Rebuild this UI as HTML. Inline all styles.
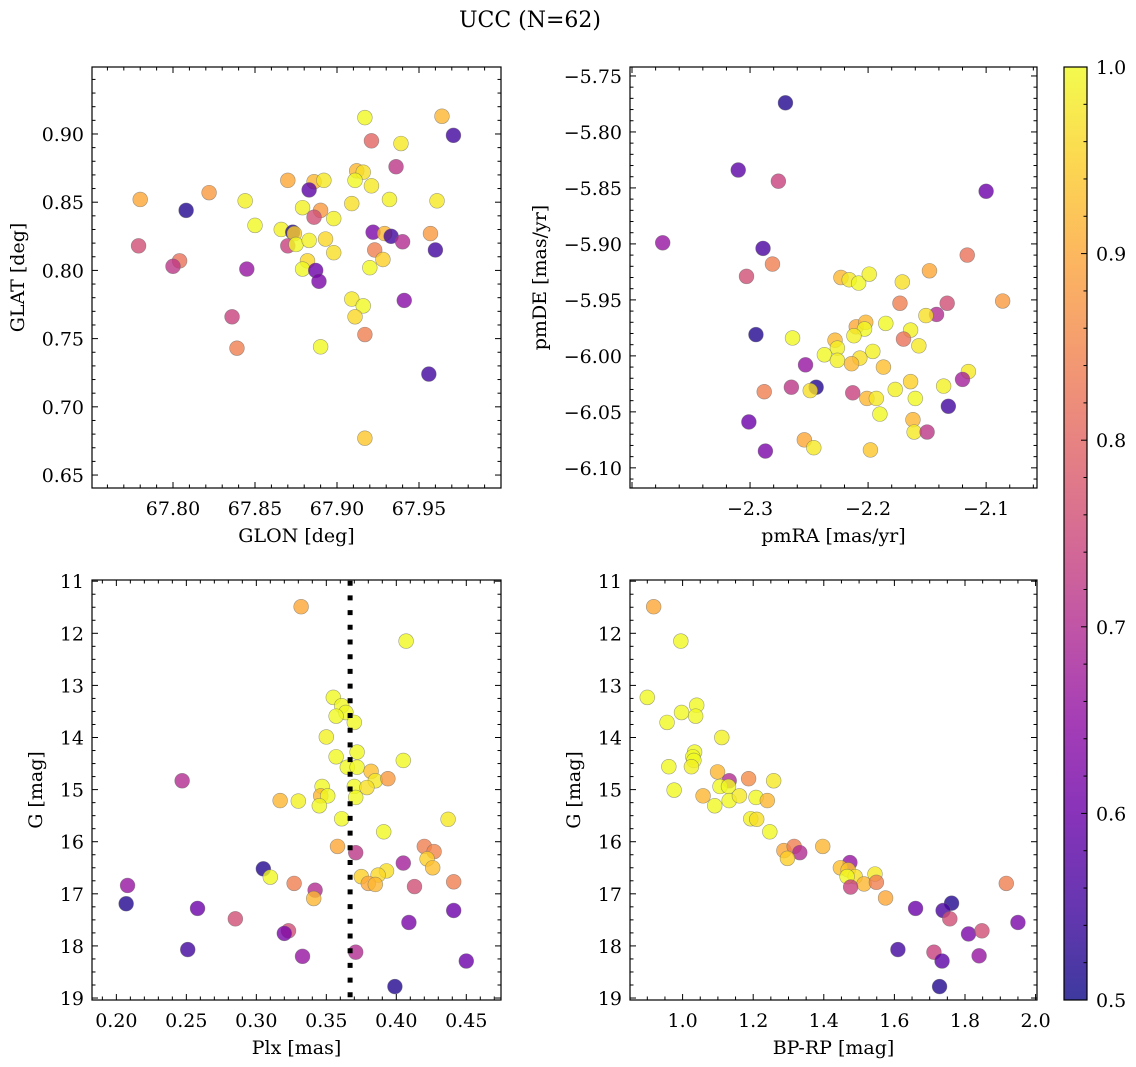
<!DOCTYPE html>
<html><head><meta charset="utf-8">
<style>
html,body{margin:0;padding:0;background:#fff;}
svg{display:block;font-family:"DejaVu Serif","Liberation Serif",serif;}
</style></head>
<body>
<svg id="fig" width="1136" height="1067" viewBox="0 0 1136 1067">
<text x="530" y="27" text-anchor="middle" font-size="22">UCC (N=62)</text>
</svg>
<script>
// ---- Panel 1: GLON vs GLAT ----
const glon1 = [67.917,67.964,67.971,67.921,67.939,67.936,67.912,67.916,67.911,67.921,67.870,67.886,67.892,67.883,67.932,67.961,67.780,67.822,67.808,67.844,67.909,67.879,67.890,67.886,67.898,67.850,67.866,67.873,67.874,67.870,67.875,67.883,67.893,67.898,67.922,67.929,67.933,67.940,67.957,67.960,67.923,67.928,67.920,67.779,67.804,67.800,67.845,67.882,67.879,67.887,67.889,67.909,67.916,67.941,67.911,67.836,67.917,67.839,67.890,67.956,67.917];
const glat1 = [0.912,0.913,0.899,0.895,0.893,0.876,0.873,0.872,0.866,0.862,0.866,0.865,0.866,0.859,0.852,0.851,0.852,0.857,0.844,0.851,0.849,0.846,0.844,0.839,0.838,0.833,0.830,0.828,0.827,0.818,0.819,0.822,0.823,0.813,0.828,0.827,0.825,0.821,0.827,0.815,0.815,0.808,0.802,0.818,0.807,0.803,0.801,0.807,0.801,0.800,0.792,0.779,0.774,0.778,0.766,0.766,0.753,0.743,0.744,0.724,0.677];
const prob1 = [1.0,0.92,0.55,0.8,0.98,0.72,0.92,0.97,1.0,0.98,0.9,0.92,0.98,0.58,0.99,0.98,0.9,0.88,0.52,0.99,0.97,0.99,0.88,0.76,0.99,1.0,0.99,0.52,0.95,0.74,1.0,0.99,0.96,0.97,0.62,0.92,0.55,0.7,0.88,0.55,0.84,0.95,1.0,0.76,0.82,0.72,0.66,0.96,1.0,0.6,0.62,0.98,1.0,0.64,0.96,0.74,0.84,0.84,1.0,0.55,0.94];
// ---- Panel 2: pmRA vs pmDE ----
const pmra2 = [-2.270,-2.310,-2.276,-2.100,-2.374,-2.289,-2.281,-2.303,-2.223,-2.216,-2.208,-2.199,-2.171,-2.148,-2.116,-2.086,-2.173,-2.133,-2.142,-2.151,-2.210,-2.202,-2.203,-2.185,-2.164,-2.212,-2.170,-2.157,-2.264,-2.295,-2.228,-2.226,-2.237,-2.226,-2.196,-2.207,-2.214,-2.187,-2.253,-2.115,-2.120,-2.164,-2.136,-2.177,-2.265,-2.244,-2.249,-2.288,-2.213,-2.201,-2.193,-2.160,-2.190,-2.132,-2.162,-2.161,-2.150,-2.301,-2.254,-2.246,-2.287,-2.198];
const pmde2 = [-5.774,-5.834,-5.844,-5.853,-5.899,-5.904,-5.918,-5.929,-5.930,-5.932,-5.935,-5.927,-5.934,-5.924,-5.910,-5.951,-5.953,-5.953,-5.963,-5.964,-5.974,-5.970,-5.976,-5.971,-5.977,-5.982,-5.985,-5.991,-5.984,-5.981,-5.986,-5.993,-5.999,-6.004,-5.996,-6.002,-6.007,-6.010,-6.008,-6.014,-6.021,-6.023,-6.027,-6.030,-6.028,-6.028,-6.031,-6.032,-6.033,-6.038,-6.038,-6.038,-6.052,-6.045,-6.057,-6.068,-6.068,-6.059,-6.075,-6.082,-6.085,-6.084];
const prob2 = [0.52,0.58,0.74,0.6,0.66,0.56,0.84,0.76,0.92,0.98,1.0,0.99,0.97,0.9,0.82,0.88,0.84,0.76,0.7,0.97,0.9,0.92,1.0,1.0,0.99,0.99,0.82,0.98,1.0,0.52,0.92,0.99,1.0,0.99,0.99,0.97,0.92,0.93,0.66,0.98,0.68,0.95,0.99,0.99,0.72,0.52,0.97,0.84,0.74,0.92,0.98,1.0,1.0,0.55,0.92,0.98,0.72,0.6,0.9,0.98,0.62,0.94];
// ---- Panel 3: Plx vs G ----
const plx3 = [0.332,0.407,0.355,0.361,0.364,0.357,0.370,0.350,0.372,0.357,0.405,0.365,0.372,0.382,0.385,0.394,0.247,0.370,0.379,0.347,0.346,0.351,0.371,0.317,0.330,0.345,0.361,0.437,0.391,0.358,0.371,0.420,0.427,0.422,0.405,0.426,0.393,0.387,0.375,0.380,0.385,0.441,0.413,0.305,0.310,0.327,0.342,0.341,0.208,0.207,0.258,0.285,0.323,0.320,0.441,0.409,0.251,0.333,0.371,0.450,0.399];
const gmag3 = [11.49,12.15,13.23,13.39,13.52,13.59,13.71,13.99,14.28,14.37,14.44,14.57,14.57,14.65,14.83,14.79,14.83,14.94,14.96,14.94,15.12,15.12,15.15,15.21,15.22,15.31,15.56,15.57,15.81,16.09,16.21,16.09,16.19,16.33,16.41,16.50,16.56,16.64,16.67,16.80,16.82,16.77,16.86,16.52,16.68,16.80,16.93,17.09,16.84,17.19,17.28,17.48,17.71,17.76,17.32,17.55,18.07,18.20,18.12,18.29,18.78];
const prob3 = [0.9,1.0,1.0,1.0,1.0,1.0,1.0,0.99,1.0,1.0,1.0,1.0,1.0,0.93,0.98,0.88,0.7,1.0,0.97,1.0,0.92,1.0,1.0,0.92,0.99,1.0,1.0,0.98,1.0,0.9,0.72,0.84,0.85,0.95,0.68,0.93,0.97,0.96,0.95,0.9,0.92,0.84,0.76,0.52,1.0,0.84,0.7,0.92,0.66,0.52,0.6,0.76,0.76,0.62,0.6,0.62,0.55,0.66,0.7,0.6,0.52];
const plxRef = 0.367;
// ---- Panel 4: BP-RP vs G ----
const bprp4 = [0.918,0.995,0.900,1.040,0.997,1.037,0.956,1.111,1.034,1.029,1.032,1.025,0.961,1.099,1.132,1.187,1.258,1.106,1.130,0.976,1.058,1.132,1.161,1.208,1.240,1.091,1.193,1.210,1.247,1.287,1.316,1.332,1.297,1.397,1.474,1.447,1.469,1.489,1.466,1.545,1.514,1.549,1.476,1.575,1.917,1.660,1.762,1.738,1.757,1.810,1.848,1.950,1.610,1.712,1.735,1.840,1.728];
const gmag4 = [11.49,12.15,13.23,13.38,13.52,13.59,13.71,14.00,14.28,14.37,14.44,14.56,14.56,14.66,14.83,14.79,14.83,14.94,14.94,15.01,15.12,15.21,15.12,15.15,15.21,15.31,15.56,15.57,15.81,16.17,16.09,16.21,16.32,16.09,16.40,16.50,16.54,16.67,16.67,16.62,16.81,16.78,16.87,17.08,16.80,17.28,17.18,17.32,17.48,17.77,17.71,17.55,18.07,18.12,18.29,18.19,18.78];
const prob4 = [0.9,1.0,1.0,1.0,1.0,1.0,1.0,0.99,1.0,1.0,1.0,0.99,1.0,0.92,0.7,0.86,0.98,1.0,1.0,1.0,0.92,1.0,0.98,1.0,0.92,1.0,0.99,0.97,1.0,0.9,0.84,0.7,0.95,0.92,0.66,0.93,0.94,0.97,1.0,0.98,0.92,0.84,0.74,0.9,0.84,0.6,0.52,0.56,0.76,0.62,0.76,0.62,0.55,0.74,0.58,0.66,0.52];
// tick labels
const p1xTicks = [67.80,67.85,67.90,67.95];
const p1yTicks = [0.65,0.70,0.75,0.80,0.85,0.90];
const p2xTicks = [-2.3,-2.2,-2.1];
const p2yTicks = [-5.75,-5.80,-5.85,-5.90,-5.95,-6.00,-6.05,-6.10];
const p3xTicks = [0.20,0.25,0.30,0.35,0.40,0.45];
const gTicks = [11,12,13,14,15,16,17,18,19];
const p4xTicks = [1.0,1.2,1.4,1.6,1.8,2.0];
const cbTicks = [0.5,0.6,0.7,0.8,0.9,1.0];

const NS = "http://www.w3.org/2000/svg";
const svg = document.getElementById('fig');
const FS = 19;
const plasma = ["#0d0887","#41049d","#6a00a8","#8f0da4","#b12a90","#cc4778","#e16462","#f2844b","#fca636","#fcce25","#f0f921"];
function hex(h){return [parseInt(h.substr(1,2),16),parseInt(h.substr(3,2),16),parseInt(h.substr(5,2),16)];}
function cmap(v){
  let t=(v-0.5)/0.5; t=Math.max(0,Math.min(1,t));
  const f=t*10, i=Math.min(9,Math.floor(f)), r=f-i;
  const a=hex(plasma[i]), b=hex(plasma[i+1]);
  return "rgb("+a.map((x,k)=>Math.round(x+(b[k]-x)*r)).join(",")+")";
}
function mk(tag, attrs, parent){
  const e=document.createElementNS(NS,tag);
  for(const k in attrs) e.setAttribute(k, attrs[k]);
  (parent||svg).appendChild(e); return e;
}
function fmt(v,d){return v.toFixed(d).replace("-","\u2212");}

function panel(o){
  const g=mk('g',{});
  
  
  const sx=v=>o.x0+(v-o.xmin)/(o.xmax-o.xmin)*(o.x1-o.x0);
  const sy=v=>o.yinv ? o.y0+(v-o.ymin)/(o.ymax-o.ymin)*(o.y1-o.y0) : o.y1-(v-o.ymin)/(o.ymax-o.ymin)*(o.y1-o.y0);
  const pg=mk('g',{},g);
  
  
  for(let i=0;i<o.xs.length;i++){
    const c=mk('circle',{cx:sx(o.xs[i]),cy:sy(o.ys[i]),r:7.4,fill:cmap(o.cs[i]),'fill-opacity':0.8,stroke:'#666','stroke-opacity':0.6,'stroke-width':0.6},pg);
    
    
  }
  if(o.extra) o.extra(g,sx,sy);
  const fr=mk('rect',{x:o.x0,y:o.y0,width:o.x1-o.x0,height:o.y1-o.y0,fill:'none',stroke:'#000','stroke-width':1.2},g);
  
  
  const tg=mk('g',{stroke:'#000','stroke-width':1},g);
  const eps=1e-9;
  for(let v=Math.ceil(o.xmin/o.xminor-eps)*o.xminor; v<=o.xmax+eps; v+=o.xminor){
    const isMaj=Math.abs(v/o.xmajor-Math.round(v/o.xmajor))<1e-6;
    const L=isMaj?6:3.5, X=sx(v);
    mk('line',{x1:X,x2:X,y1:o.y1,y2:o.y1-L},tg); mk('line',{x1:X,x2:X,y1:o.y0,y2:o.y0+L},tg);
  }
  for(let v=Math.ceil(o.ymin/o.yminor-eps)*o.yminor; v<=o.ymax+eps; v+=o.yminor){
    const isMaj=Math.abs(v/o.ymajor-Math.round(v/o.ymajor))<1e-6;
    const L=isMaj?6:3.5, Y=sy(v);
    mk('line',{x1:o.x0,x2:o.x0+L,y1:Y,y2:Y},tg); mk('line',{x1:o.x1,x2:o.x1-L,y1:Y,y2:Y},tg);
  }
  o.xt.forEach(v=>{
    const t=mk('text',{x:sx(v),y:o.y1+27,'text-anchor':'middle','font-size':FS},g);
    t.textContent=fmt(v,o.xd);
    
    
  });
  o.yt.forEach(v=>{
    const t=mk('text',{x:o.x0-8,y:sy(v)+7,'text-anchor':'end','font-size':FS},g);
    t.textContent=fmt(v,o.yd);
    
    
  });
  const xl=mk('text',{x:(o.x0+o.x1)/2,y:o.y1+54,'text-anchor':'middle','font-size':FS},g);
  xl.textContent=o.xlabel;
  
  
  const yx=o.x0-o.ylabOff, yy=(o.y0+o.y1)/2;
  const yl=mk('text',{x:yx,y:yy,'text-anchor':'middle','font-size':FS,transform:`rotate(-90 ${yx} ${yy})`},g);
  yl.textContent=o.ylabel;
  
  
}

panel({name:'glon-glat-panel',x0:92,x1:501,y0:67,y1:488,xmin:67.7506,xmax:68.0,ymin:0.6405,ymax:0.9491,
  xs:glon1,ys:glat1,cs:prob1,xmajor:0.05,xminor:0.01,ymajor:0.05,yminor:0.01,xt:p1xTicks,yt:p1yTicks,xd:2,yd:2,
  xlabel:'GLON [deg]',ylabel:'GLAT [deg]',ylabOff:68});
panel({name:'pm-panel',x0:630,x1:1037,y0:67,y1:488,xmin:-2.4017,xmax:-2.0569,ymin:-6.118,ymax:-5.742,
  xs:pmra2,ys:pmde2,cs:prob2,xmajor:0.1,xminor:0.02,ymajor:0.05,yminor:0.01,xt:p2xTicks,yt:p2yTicks,xd:1,yd:2,
  xlabel:'pmRA [mas/yr]',ylabel:'pmDE [mas/yr]',ylabOff:84});
panel({name:'plx-g-panel',x0:92,x1:501,y0:580,y1:1000,xmin:0.1826,xmax:0.4748,ymin:10.977,ymax:19.038,yinv:true,
  xs:plx3,ys:gmag3,cs:prob3,xmajor:0.05,xminor:0.01,ymajor:1,yminor:0.25,xt:p3xTicks,yt:gTicks,xd:2,yd:0,
  xlabel:'Plx [mas]',ylabel:'G [mag]',ylabOff:50,
  extra:(g,sx,sy)=>{
    const l=mk('line',{x1:sx(plxRef),x2:sx(plxRef),y1:sy(11.0)-0.5,y2:1000,stroke:'#000','stroke-width':5,'stroke-dasharray':'5 9.7'},g);
    
    
  }});
panel({name:'cmd-panel',x0:630,x1:1037,y0:580,y1:1000,xmin:0.851,xmax:2.004,ymin:10.977,ymax:19.038,yinv:true,
  xs:bprp4,ys:gmag4,cs:prob4,xmajor:0.2,xminor:0.05,ymajor:1,yminor:0.25,xt:p4xTicks,yt:gTicks,xd:1,yd:0,
  xlabel:'BP-RP [mag]',ylabel:'G [mag]',ylabOff:50});

// colorbar
(function(){
  const x0=1064,x1=1087,y0=67,y1=1000;
  const g=mk('g',{});
  
  
  const defs=mk('defs',{},g);
  const lg=mk('linearGradient',{id:'cbg',x1:0,y1:1,x2:0,y2:0},defs);
  for(let i=0;i<=20;i++){ mk('stop',{offset:i/20,'stop-color':cmap(0.5+i/40),'stop-opacity':0.8},lg); }
  mk('rect',{x:x0,y:y0,width:x1-x0,height:y1-y0,fill:'url(#cbg)',stroke:'#000','stroke-width':1.2},g);
  const sy=v=>y1-(v-0.5)/0.5*(y1-y0);
  for(let k=0;k<=25;k++){
    const v=0.5+k*0.02, maj=(k%5===0), L=maj?6:3.5;
    mk('line',{x1:x1,x2:x1-L,y1:sy(v),y2:sy(v),stroke:'#000','stroke-width':1},g);
  }
  cbTicks.forEach(v=>{
    const t=mk('text',{x:x1+9,y:sy(v)+7,'font-size':FS},g);
    t.textContent=v.toFixed(1);
    
    
  });
})();
</script>
</body></html>
